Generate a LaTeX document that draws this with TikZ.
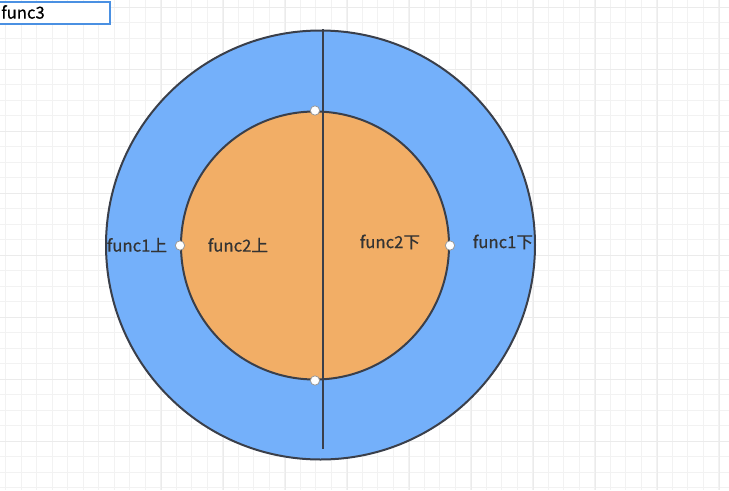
\documentclass[tikz,border=0pt]{standalone}
\usepackage{fontspec}
\setmainfont{Noto Sans CJK SC}
\newfontfamily\lblfont{Noto Sans CJK SC}[FakeBold=0.4]
\usepackage{tikz}
\usetikzlibrary{positioning, calc}
\definecolor{ringblue}{HTML}{74B0FA}
\definecolor{coreorange}{HTML}{F2AE66}
\definecolor{edgegray}{HTML}{3A3F4A}
\definecolor{labelgray}{HTML}{333333}
\definecolor{selblue}{HTML}{4A90E2}

\begin{document}
\begin{tikzpicture}[
		x=0.75pt, y=-0.75pt,
		ring/.style={circle, draw=edgegray, line width=1.5pt, inner sep=0pt},
		handle/.style={circle, draw=gray!80, fill=white, line width=0.6pt, minimum size=7pt, inner sep=0pt},
		lbl/.style={text=labelgray, font=\lblfont\fontsize{12.5pt}{14pt}\selectfont, inner sep=0pt},
	]
		\useasboundingbox (0,0) rectangle (729,490);
		\fill[white] (0,0) rectangle (729,490);

		%Grid
		\foreach \gx in {5.5,21,...,729} {
			\draw[black!5, line width=0.75pt] (\gx,0) -- (\gx,490);
		}
		\foreach \gy in {7,22.5,...,490} {
			\draw[black!5, line width=0.75pt] (0,\gy) -- (729,\gy);
		}
		\foreach \gx in {161,223,...,729} {
			\draw[black!8, line width=0.75pt] (\gx,0) -- (\gx,490);
		}
		\foreach \gy in {7,69,...,490} {
			\draw[black!8, line width=0.75pt] (0,\gy) -- (729,\gy);
		}

		%Nodes
		\node (outer) [ring, fill=ringblue, minimum size=429*0.75pt] at (320.5,245) {};
		\node (inner) [ring, fill=coreorange, minimum size=268*0.75pt] at (315,245.5) {};

		\coordinate (top) at (323,29);
		\coordinate (bottom) at (323,449);

		\node (f1up) [lbl] at (137,245) {func1上};
		\node (f2up) [lbl] at (238,245) {func2上};
		\node (f2down) [lbl] at (390,242) {func2下};
		\node (f1down) [lbl] at (503,242) {func1下};

		\node (func3) [draw=selblue, line width=1.5pt, fill=white, minimum width=112*0.75pt,
			minimum height=22*0.75pt, anchor=north west, inner sep=0pt] at (-3,1) {};
		\node (func3text) [lbl, text=black, anchor=west] at (1,12) {func3};

		%Lines
		\draw[edgegray, line width=1.5pt] (top) -- (bottom);

		\foreach \side in {north, west, east, south} {
			\node[handle] at (inner.\side) {};
		}
	\end{tikzpicture}
\end{document}
